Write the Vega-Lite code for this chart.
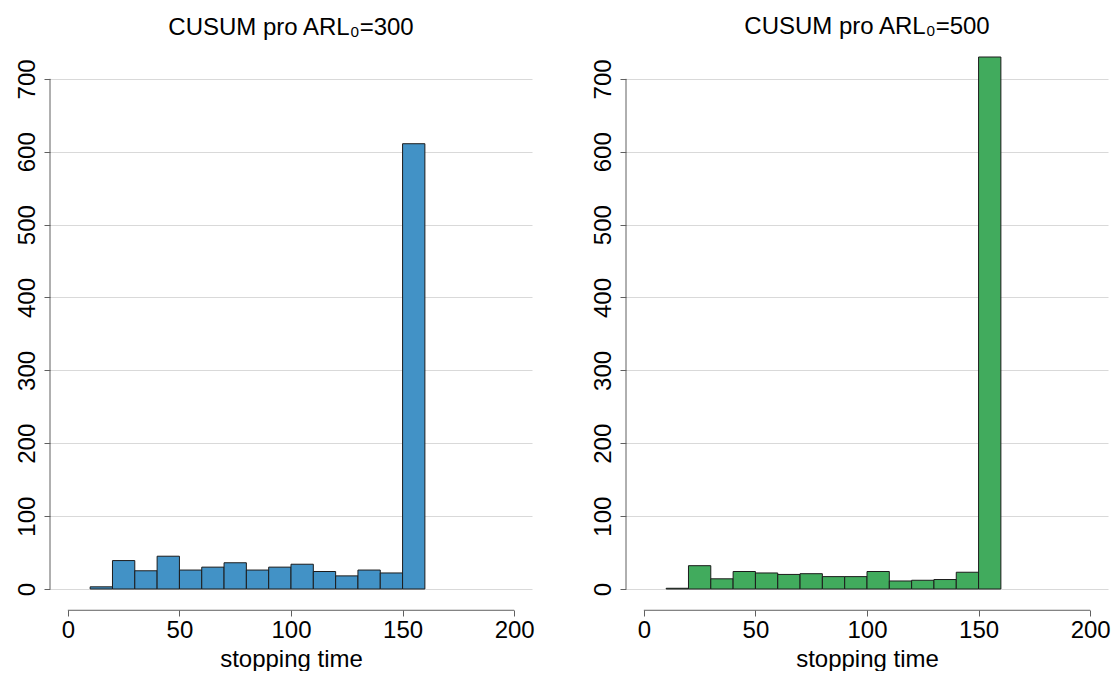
{
  "$schema": "https://vega.github.io/schema/vega-lite/v6.json",
  "background": "white",
  "padding": {"left": 14, "top": 15, "right": 5, "bottom": 0},
  "spacing": 55,
  "config": {
    "view": {"stroke": null},
    "font": "Liberation Sans",
    "axis": {
      "labelFont": "Liberation Sans",
      "labelFontSize": 24,
      "labelColor": "#000000",
      "titleFont": "Liberation Sans",
      "titleFontSize": 24,
      "titleFontWeight": "normal",
      "titleColor": "#000000",
      "domainColor": "#606060",
      "domainWidth": 1,
      "tickColor": "#606060",
      "tickWidth": 1,
      "tickSize": 6,
      "gridColor": "#d9d9d9",
      "gridWidth": 1,
      "labelFlush": false,
      "labelOverlap": false
    },
    "title": {
      "font": "Liberation Sans",
      "fontSize": 24,
      "fontWeight": "normal",
      "color": "#000000",
      "anchor": "middle",
      "frame": "group",
      "offset": 17.5
    }
  },
  "data": {
    "values": [
      {"arl": 300, "bin_start": 10, "bin_end": 20, "count": 3},
      {"arl": 300, "bin_start": 20, "bin_end": 30, "count": 39},
      {"arl": 300, "bin_start": 30, "bin_end": 40, "count": 25},
      {"arl": 300, "bin_start": 40, "bin_end": 50, "count": 45},
      {"arl": 300, "bin_start": 50, "bin_end": 60, "count": 26},
      {"arl": 300, "bin_start": 60, "bin_end": 70, "count": 30},
      {"arl": 300, "bin_start": 70, "bin_end": 80, "count": 36},
      {"arl": 300, "bin_start": 80, "bin_end": 90, "count": 26},
      {"arl": 300, "bin_start": 90, "bin_end": 100, "count": 30},
      {"arl": 300, "bin_start": 100, "bin_end": 110, "count": 34},
      {"arl": 300, "bin_start": 110, "bin_end": 120, "count": 24},
      {"arl": 300, "bin_start": 120, "bin_end": 130, "count": 18},
      {"arl": 300, "bin_start": 130, "bin_end": 140, "count": 26},
      {"arl": 300, "bin_start": 140, "bin_end": 150, "count": 22},
      {"arl": 300, "bin_start": 150, "bin_end": 160, "count": 611},
      {"arl": 500, "bin_start": 10, "bin_end": 20, "count": 1},
      {"arl": 500, "bin_start": 20, "bin_end": 30, "count": 32},
      {"arl": 500, "bin_start": 30, "bin_end": 40, "count": 14},
      {"arl": 500, "bin_start": 40, "bin_end": 50, "count": 24},
      {"arl": 500, "bin_start": 50, "bin_end": 60, "count": 22},
      {"arl": 500, "bin_start": 60, "bin_end": 70, "count": 20},
      {"arl": 500, "bin_start": 70, "bin_end": 80, "count": 21},
      {"arl": 500, "bin_start": 80, "bin_end": 90, "count": 17},
      {"arl": 500, "bin_start": 90, "bin_end": 100, "count": 17},
      {"arl": 500, "bin_start": 100, "bin_end": 110, "count": 24},
      {"arl": 500, "bin_start": 110, "bin_end": 120, "count": 11},
      {"arl": 500, "bin_start": 120, "bin_end": 130, "count": 12},
      {"arl": 500, "bin_start": 130, "bin_end": 140, "count": 13},
      {"arl": 500, "bin_start": 140, "bin_end": 150, "count": 23},
      {"arl": 500, "bin_start": 150, "bin_end": 160, "count": 730}
    ]
  },
  "hconcat": [
    {
      "width": 482,
      "height": 532,
      "title": {"text": "CUSUM pro ARL₀=300"},
      "layer": [
        {
          "transform": [{"filter": "datum.arl == 300"}],
          "mark": {"type": "bar", "fill": "#4292c6", "stroke": "#1c1c1c", "strokeWidth": 1},
          "encoding": {
            "x": {
              "field": "bin_start", "type": "quantitative",
              "scale": {"domain": [-8, 208], "nice": false, "zero": false},
              "axis": {"values": [0, 50, 100, 150, 200], "title": "stopping time", "offset": 21, "domain": false, "grid": false, "labelPadding": 2, "titlePadding": 5}
            },
            "x2": {"field": "bin_end"},
            "y": {
              "field": "count", "type": "quantitative",
              "scale": {"domain": [0, 730], "nice": false},
              "axis": {"values": [0, 100, 200, 300, 400, 500, 600, 700], "title": null, "grid": true, "domain": false, "labelAngle": -90, "labelAlign": "center", "labelBaseline": "bottom", "labelPadding": 5}
            },
            "y2": {"datum": 0}
          }
        },
        {
          "data": {"values": [{}]},
          "mark": {"type": "rule", "color": "#606060", "strokeWidth": 1},
          "encoding": {"x": {"datum": 0}, "x2": {"datum": 200}, "y": {"datum": -29.2}}
        },
        {
          "data": {"values": [{}]},
          "mark": {"type": "rule", "color": "#606060", "strokeWidth": 1},
          "encoding": {"x": {"datum": -8}, "y": {"datum": 0}, "y2": {"datum": 700}}
        }
      ]
    },
    {
      "width": 482,
      "height": 532,
      "title": {"text": "CUSUM pro ARL₀=500"},
      "layer": [
        {
          "transform": [{"filter": "datum.arl == 500"}],
          "mark": {"type": "bar", "fill": "#41ab5d", "stroke": "#1c1c1c", "strokeWidth": 1},
          "encoding": {
            "x": {
              "field": "bin_start", "type": "quantitative",
              "scale": {"domain": [-8, 208], "nice": false, "zero": false},
              "axis": {"values": [0, 50, 100, 150, 200], "title": "stopping time", "offset": 21, "domain": false, "grid": false, "labelPadding": 2, "titlePadding": 5}
            },
            "x2": {"field": "bin_end"},
            "y": {
              "field": "count", "type": "quantitative",
              "scale": {"domain": [0, 730], "nice": false},
              "axis": {"values": [0, 100, 200, 300, 400, 500, 600, 700], "title": null, "grid": true, "domain": false, "labelAngle": -90, "labelAlign": "center", "labelBaseline": "bottom", "labelPadding": 5}
            },
            "y2": {"datum": 0}
          }
        },
        {
          "data": {"values": [{}]},
          "mark": {"type": "rule", "color": "#606060", "strokeWidth": 1},
          "encoding": {"x": {"datum": 0}, "x2": {"datum": 200}, "y": {"datum": -29.2}}
        },
        {
          "data": {"values": [{}]},
          "mark": {"type": "rule", "color": "#606060", "strokeWidth": 1},
          "encoding": {"x": {"datum": -8}, "y": {"datum": 0}, "y2": {"datum": 700}}
        }
      ]
    }
  ]
}
